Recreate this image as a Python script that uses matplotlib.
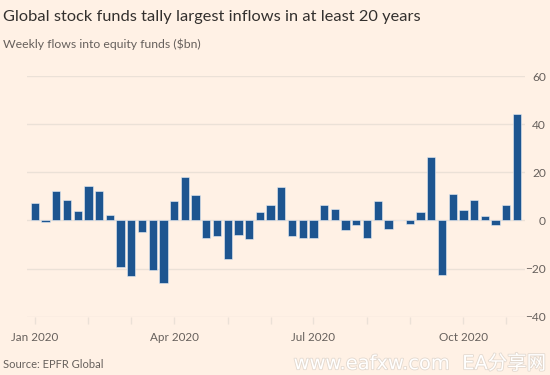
#!/usr/bin/env python3
"""Weekly flows into equity funds, FT style bar chart."""

import matplotlib
import numpy as np
import pandas as pd

matplotlib.use("Agg")
import matplotlib.pyplot as plt
import matplotlib.patheffects as pe


TITLE = "Global stock funds tally largest inflows in at least 20 years"
SUBTITLE = "Weekly flows into equity funds ($bn)"
SOURCE = "Source: EPFR Global"
WATERMARK = "www.eafxw.com  EA分享网"

FIRST_WEEK = "2020-01-01"
FLOWS = [
    7.3, -0.6, 12.4, 8.4, 3.9, 14.2, 12.4, 2.2, -19.2, -23.2,
    -4.7, -20.6, -26.1, 8.0, 18.2, 10.6, -7.2, -6.6, -16.1, -6.1,
    -7.6, 3.7, 6.2, 13.8, -6.3, -7.3, -7.2, 6.2, 4.7, -3.9,
    -1.8, -7.4, 8.0, -3.4, 0.2, -1.4, 3.4, 26.2, -22.6, 11.0,
    4.4, 8.6, 1.9, -2.1, 6.5, 44.1,
]
Y_TICKS = [-40, -20, 0, 20, 40, 60]
LABEL_MONTHS = [1, 4, 7, 10]

BG = "#fff1e5"
BAR = "#1d5590"
GRID = "#ebe1d7"
TEXT = "#33302e"
MUTED = "#66605c"

plt.rcParams["font.family"] = ["Lato", "DejaVu Sans"]


def main() -> None:
    weeks = pd.date_range(FIRST_WEEK, periods=len(FLOWS), freq="7D")
    flows = np.array(FLOWS)

    fig = plt.figure(figsize=(5.5, 3.75), dpi=100, facecolor=BG)
    ax = fig.add_axes([0.0485, 0.1555, 0.906, 0.6418], facecolor=BG)

    ax.bar(weeks, flows, width=5.4, color=BAR, edgecolor="#e8eef5",
           linewidth=0.4, zorder=3)

    ax.set_ylim(Y_TICKS[0], Y_TICKS[-1])
    ax.set_xlim(weeks[0] - pd.Timedelta(days=5.3), weeks[-1] + pd.Timedelta(days=5.2))
    for y in Y_TICKS:
        ax.axhline(y, color=GRID, linewidth=1.0, zorder=1)

    # ticks sit on the first week of each month
    firsts = weeks.to_series().groupby([weeks.year, weeks.month]).min()
    ax.set_xticks(list(firsts))
    ax.set_xticklabels([d.strftime("%b %Y") if d.month in LABEL_MONTHS else ""
                        for d in firsts])
    ax.tick_params(axis="x", length=5, width=1.0, color=GRID, pad=6,
                   labelsize=8.4, labelcolor=MUTED)

    ax.yaxis.tick_right()
    ax.set_yticks(Y_TICKS)
    ax.tick_params(axis="y", length=0, pad=15, labelsize=8.6, labelcolor=MUTED)
    for lab in ax.get_yticklabels():
        lab.set_horizontalalignment("right")

    for spine in ax.spines.values():
        spine.set_visible(False)

    fig.text(0.006, 0.955, TITLE, fontsize=11.8, color=TEXT, va="center")
    fig.text(0.006, 0.882, SUBTITLE, fontsize=8.8, color=MUTED, va="center")
    fig.text(0.006, 0.027, SOURCE, fontsize=8.0, color=MUTED, va="center")
    fig.text(0.995, 0.03, WATERMARK, fontsize=14, color="#ffffff", ha="right",
             va="center", family=["DejaVu Sans", "Noto Sans CJK SC"],
             path_effects=[pe.withStroke(linewidth=1.2, foreground="#e3d9cf")])

    fig.savefig("out.png", dpi=100, facecolor=BG)
    plt.close(fig)


if __name__ == "__main__":
    main()
